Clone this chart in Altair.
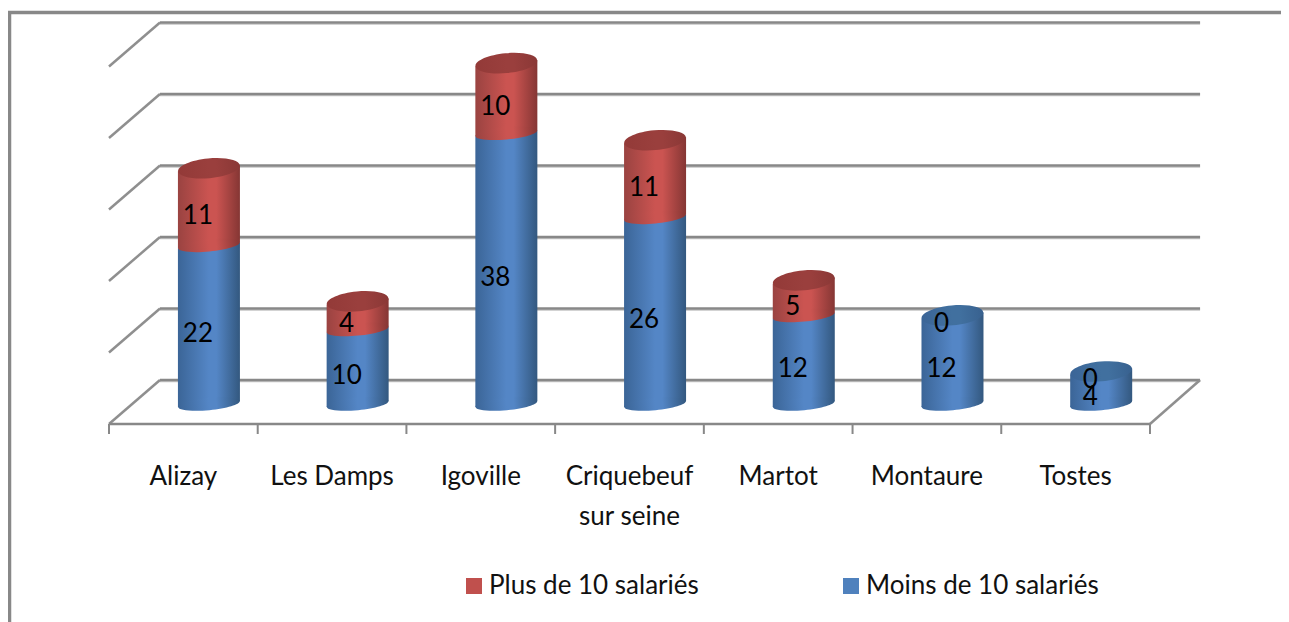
import altair as alt
import pandas as pd

# ---- values
communes = ["Alizay", "Les Damps", "Igoville", "Criquebeuf\nsur seine", "Martot", "Montaure", "Tostes"]
moins = [22, 10, 38, 26, 12, 12, 4]
plus = [11, 4, 10, 11, 5, 0, 0]
grid_values = [0, 10, 20, 30, 40, 50]
series_names = ["Plus de 10 salariés", "Moins de 10 salariés"]

W, H = 1273, 614
PX_PER_X = 148.71
PX_PER_Y = 7.15
X0 = 109   # page px of category position 0
Y0 = 380   # page px of value 0 on back wall


def ux(page):
    return (page - X0) / PX_PER_X


def uy(page):
    return (Y0 - page) / PX_PER_Y


xscale = alt.Scale(domain=[ux(8), ux(8 + W)], range=[0, W], nice=False, zero=False)
yscale = alt.Scale(domain=[uy(8 + H), uy(8)], range=[H, 0], nice=False, zero=False)
X = alt.X("x:Q", scale=xscale, axis=None)
Y = alt.Y("y:Q", scale=yscale, axis=None)

GRAY = "#888888"
DEPTH_X = 0.343
FRONT = -44 / PX_PER_Y

# ---- structure lines
grid = [dict(x=DEPTH_X, x2=7.337, y=v, y2=v) for v in grid_values]
shadow = [dict(x=DEPTH_X, x2=7.337, y=v - 0.22, y2=v - 0.22) for v in grid_values]
diag = [dict(x=0, x2=DEPTH_X, y=v + FRONT, y2=v) for v in grid_values]
diag.append(dict(x=7, x2=7.337, y=FRONT, y2=0))
axis_line = [dict(x=0, x2=7, y=FRONT, y2=FRONT)]
ticks = [dict(x=i, x2=i, y=FRONT, y2=FRONT - 10 / PX_PER_Y) for i in range(8)]
frame = [
    dict(x=ux(8), x2=ux(8 + W), y=uy(12.5), y2=uy(12.5)),
    dict(x=ux(9.5), x2=ux(9.5), y=uy(11), y2=uy(8 + H)),
]


def rules(rows, color, width, **kw):
    return (
        alt.Chart(pd.DataFrame(rows))
        .mark_rule(color=color, strokeWidth=width, **kw)
        .encode(x=X, x2=alt.X2("x2:Q"), y=Y, y2=alt.Y2("y2:Q"))
    )


# ---- cylinders
CYL_X = 0.672
HALF = 31 / PX_PER_X
TILT = 3 / PX_PER_Y
BOTTOM = uy(404)
BASE = uy(399.5)
K = 0.98


def top(v):
    return BASE + K * v


def gradient(edge_l, mid, edge_r):
    return alt.LinearGradient(
        gradient="linear", x1=0, x2=1, y1=0, y2=0,
        stops=[
            alt.GradientStop(color=edge_l, offset=0),
            alt.GradientStop(color=mid, offset=0.5),
            alt.GradientStop(color=mid, offset=0.62),
            alt.GradientStop(color=edge_r, offset=1),
        ],
    )


BLUE = gradient("#3b6597", "#5486c6", "#33587f")
RED = gradient("#9a4341", "#cb5451", "#853634")
BLUE_CAP = gradient("#3b6597", "#41709f", "#38618f")
RED_CAP = gradient("#933a38", "#9a3f3d", "#8a3836")

FLAT = "M-1,0 A1,0.2 0 1 1 1,0 A1,0.2 0 1 1 -1,0 Z"
CAP = "M-1,0 A1,0.32 0 1 1 1,0 A1,0.32 0 1 1 -1,0 Z"

blue_body, red_body, blue_low, red_low, blue_top, red_top, labels = [], [], [], [], [], [], []
for i, (m, p) in enumerate(zip(moins, plus)):
    cx = i + CYL_X
    bound = top(m)
    for sx in (-1, 1):
        blue_body.append(dict(x=cx + sx * HALF, y=BOTTOM + sx * TILT, y2=bound + sx * TILT, seg=i))
    blue_low.append(dict(x=cx, y=BOTTOM))
    labels.append(dict(x=cx, y=(BOTTOM + bound) / 2, t=str(m)))
    if p > 0:
        tv = top(m + p)
        for sx in (-1, 1):
            red_body.append(dict(x=cx + sx * HALF, y=bound + sx * TILT, y2=tv + sx * TILT, seg=i))
        red_low.append(dict(x=cx, y=bound))
        red_top.append(dict(x=cx, y=tv))
        labels.append(dict(x=cx, y=(bound + tv) / 2, t=str(p)))
    else:
        blue_top.append(dict(x=cx, y=bound))
        labels.append(dict(x=cx, y=bound, t=str(p)))


def body(rows, fill):
    return (
        alt.Chart(pd.DataFrame(rows))
        .mark_area(fill=fill, opacity=1)
        .encode(x=X, y=Y, y2=alt.Y2("y2:Q"), detail="seg:N")
    )


def ellipse(rows, fill, shape):
    return (
        alt.Chart(pd.DataFrame(rows))
        .mark_point(shape=shape, filled=True, fill=fill, size=62 * 62, angle=354.5, opacity=1, strokeWidth=0)
        .encode(x=X, y=Y)
    )


FONT = "Lato"
value_text = (
    alt.Chart(pd.DataFrame(labels))
    .mark_text(font=FONT, fontSize=26, color="#000000", dx=-11, dy=9, baseline="middle", align="center")
    .encode(x=X, y=Y, text="t:N")
)

cat_rows = [dict(x=i + 0.5, y=uy(477), t=c) for i, c in enumerate(communes)]
cat_text = (
    alt.Chart(pd.DataFrame(cat_rows))
    .mark_text(font=FONT, fontSize=26, color="#111111", lineBreak="\n", lineHeight=40, baseline="middle", align="center")
    .encode(x=X, y=Y, text="t:N")
)

legend_rows = [
    dict(x=ux(474), y=uy(586), t=series_names[0], c="#c0504d"),
    dict(x=ux(851), y=uy(586), t=series_names[1], c="#4f81bd"),
]
legend_sq = (
    alt.Chart(pd.DataFrame(legend_rows))
    .mark_square(size=256, opacity=1)
    .encode(x=X, y=Y, color=alt.Color("c:N", scale=None, legend=None))
)
legend_txt = (
    alt.Chart(pd.DataFrame(legend_rows))
    .mark_text(font=FONT, fontSize=26, color="#111111", dx=15, baseline="middle", align="left")
    .encode(x=X, y=Y, text="t:N")
)

chart = alt.layer(
    rules(frame, GRAY, 3.5),
    rules(shadow, "#c4c4c4", 1.5),
    rules(grid, GRAY, 2.5),
    rules(diag, "#8f8f8f", 2.5),
    rules(axis_line, GRAY, 2.5),
    rules(ticks, GRAY, 2),
    body(blue_body, BLUE),
    ellipse(blue_low, BLUE, FLAT),
    body(red_body, RED),
    ellipse(red_low, RED, FLAT),
    ellipse(blue_top, BLUE_CAP, CAP),
    ellipse(red_top, RED_CAP, CAP),
    value_text,
    cat_text,
    legend_sq,
    legend_txt,
).properties(
    width=W,
    height=H,
    padding=0,
    autosize=alt.AutoSizeParams(type="none"),
    background="#ffffff",
).configure_view(stroke=None)

chart.save("out.html", embed_options={"renderer": "svg", "actions": False})
